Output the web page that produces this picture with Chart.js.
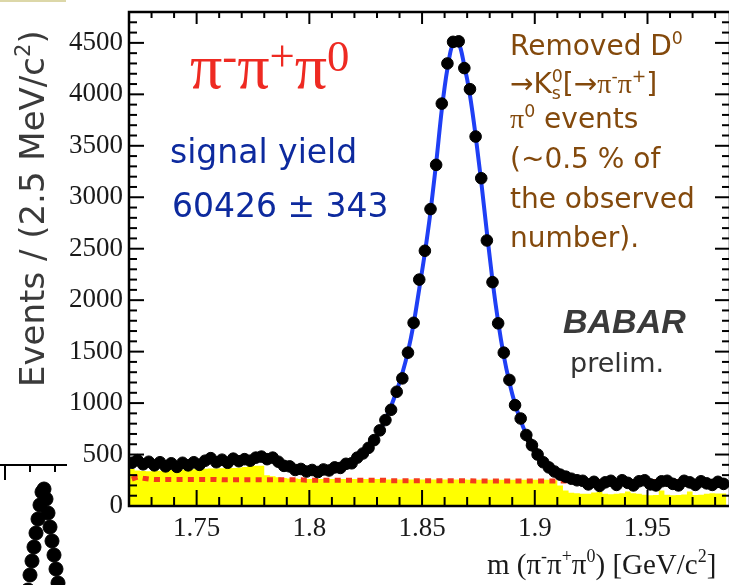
<!DOCTYPE html>
<html>
<head>
<meta charset="utf-8">
<script src="https://cdn.jsdelivr.net/npm/chart.js@4.4.0/dist/chart.umd.min.js"></script>
<style>
html,body{margin:0;padding:0;background:#fff;overflow:hidden;width:729px;height:585px}
#main{position:absolute;left:0;top:0}
#frag{position:absolute;left:0;top:455px}
#bar{position:absolute;left:0;top:0;width:66px;height:2px;background:#dcd7a8}
</style>
</head>
<body>
<div id="bar"></div>
<canvas id="main" width="731" height="585"></canvas>
<canvas id="frag" width="72" height="130"></canvas>
<script>
// m(pi- pi+ pi0) histogram, 2.5 MeV bins starting at 1.72 GeV
const binLow = 1.72
const binWidth = 0.0025
const xMin = 1.72, xMax = 1.9866
const yMin = 0, yMax = 4800

const counts = [
  420,445,405,430,395,425,385,415,380,420,
  395,425,400,440,465,425,450,420,460,435,
  455,440,470,480,455,470,430,390,385,350,
  360,335,350,330,355,345,375,370,410,415,
  470,510,565,640,735,835,935,1110,1240,1490,
  1780,2200,2480,2885,3315,3910,4300,4510,4515,4255,
  4050,3590,3185,2580,2175,1775,1490,1225,980,850,
  690,590,500,425,375,335,305,285,265,250,
  245,210,235,195,230,245,205,250,225,200,
  240,250,210,200,240,245,215,200,245,230,
  205,240,220,205,235,215
]

const fitCurve = [
  415,420,420,418,414,408,402,400,400,402,
  405,410,417,425,432,435,436,437,438,440,
  440,442,445,448,448,440,420,398,377,362,
  352,346,343,344,348,356,367,382,402,428,
  462,507,565,638,728,840,970,1120,1290,1500,
  1770,2110,2460,2860,3330,3850,4250,4480,4480,4280,
  3990,3600,3150,2660,2190,1790,1460,1200,990,830,
  695,590,505,435,380,340,308,283,263,248,
  237,229,223,220,220,222,223,224,224,224,
  224,224,224,224,224,224,224,224,224,224,
  224,224,224,224,224,224
]

// red dotted component
const combBkg = [
  262,280,270,262,258,258,258,258,258,258,
  258,258,258,258,258,258,255,255,255,255,
  255,255,255,255,255,255,255,255,255,255,
  255,250,250,250,250,250,250,250,250,250,
  250,250,250,250,250,250,246,246,246,246,
  246,246,246,246,246,246,246,246,246,246,
  246,242,242,242,242,242,242,242,242,242,
  242,242,242,242,242,242,242,242,242,242,
  242,238,238,238,238,238,238,238,238,238,
  238,238,238,238,238,238,238,238,238,238,
  238,238,238,238,238,238
]

// yellow filled component
const peakingBkg = [
  290,360,345,340,338,340,342,348,350,352,
  355,355,358,360,362,365,365,368,370,370,
  372,378,388,392,392,300,290,280,272,268,
  267,262,262,262,262,262,262,262,262,262,
  262,262,262,262,262,262,258,258,258,258,
  258,258,258,258,258,258,258,258,258,258,
  258,254,254,254,254,254,254,254,254,254,
  254,254,254,254,254,254,250,200,150,128,
  125,120,118,130,135,120,115,120,125,140,
  125,118,110,105,108,150,110,105,108,112,
  140,108,110,120,125,122
]

const xTickLabels = ['1.75','1.8','1.85','1.9','1.95']
const yTickLabels = ['0','500','1000','1500','2000','2500','3000','3500','4000','4500']

// piece of the neighbouring plot at the lower left
const fragX = [28,30,32,34,36,38,40,42,44,46,48,50,52,54,56,58]
const fragY = [-5,10,24,38,52,66,80,93,96,86,72,58,44,30,16,2]
const fragTicks = [5,30,55]

const centers = counts.map((c,i)=>binLow+(i+0.5)*binWidth)
const edges = peakingBkg.map((c,i)=>binLow+i*binWidth)

// parts: [text, 'sup'|'sub'|'', family, noAdvance]
function drawRich(ctx,x,y,parts,size,family,color,style,supScale,supRaise){
    ctx.fillStyle=color
    ctx.textBaseline='alphabetic'
    ctx.textAlign='left'
    const sc=supScale||0.62, rs=supRaise||0.4
    let cx=x
    for(const p of parts){
        const txt=p[0], kind=p[1]||'', fam=p[2]||family, noAdv=p[3]
        const s= kind ? size*sc : size
        const dy= kind==='sup' ? -size*rs : kind==='sub' ? size*0.2 : 0
        ctx.font=`${style||''} ${s}px ${fam}`
        ctx.fillText(txt,cx,y+dy)
        if(!noAdv) cx+=ctx.measureText(txt).width
    }
}

const frameTicks={
    id:'frameTicks',
    afterDatasetsDraw(chart){
        const {ctx,chartArea:a,scales:{x,y}}=chart
        ctx.save()
        ctx.strokeStyle='#000'
        ctx.lineWidth=2
        const seg=(x1,y1,x2,y2)=>{ctx.beginPath();ctx.moveTo(x1,y1);ctx.lineTo(x2,y2);ctx.stroke()}
        for(let k=172;k<=198;k++){
            const px=x.getPixelForValue(k/100)
            const major=k%5===0
            seg(px,a.bottom,px,a.bottom-(major?16:9))
            seg(px,a.top,px,a.top+(major?12:6))
        }
        for(let k=0;k<=48;k++){
            const py=y.getPixelForValue(k*100)
            const major=k%5===0
            seg(a.left,py,a.left+(major?15:8),py)
            seg(a.right,py,a.right-(major?15:8),py)
        }
        ctx.lineWidth=2.5
        ctx.strokeRect(a.left,a.top,a.right-a.left,a.bottom-a.top)
        ctx.restore()
    }
}

const texts={
    id:'texts',
    afterDraw(chart){
        const ctx=chart.ctx
        const sans='"DejaVu Sans"', serif='"Liberation Serif"'
        ctx.save()
        // y title
        ctx.save()
        ctx.translate(44,387)
        ctx.rotate(-Math.PI/2)
        drawRich(ctx,0,0,[['Events / (2.5 MeV/c'],['2','sup'],[')']],34,sans,'#3a3a3a')
        ctx.restore()
        // x title
        drawRich(ctx,487,574,[['m (π'],['-','sup'],['π'],['+','sup'],['π'],['0','sup'],[') [GeV/c'],['2','sup'],[']']],29,serif,'#1a1a1a')
        // channel
        drawRich(ctx,190,88,[['π'],['-','sup'],['π'],['+','sup'],['π'],['0','sup']],64,serif,'#ee2a22','',0.7,0.27)
        // yield
        drawRich(ctx,170,163,[['signal yield']],33,sans,'#0d2a9e')
        drawRich(ctx,172,217,[['60426 ± 343']],33,sans,'#0d2a9e')
        // note
        const brown='#83490c'
        drawRich(ctx,510,55,[['Removed D'],['0','sup']],28,sans,brown)
        drawRich(ctx,510,93,[['→K'],['s','sub','',true],['0','sup'],['[→'],['π','',serif],['-','sup'],['π','',serif],['+','sup'],[']']],28,sans,brown)
        drawRich(ctx,510,128,[['π','',serif],['0','sup'],[' events']],28,sans,brown)
        drawRich(ctx,510,168,[['(~0.5 % of']],28,sans,brown)
        drawRich(ctx,510,208,[['the observed']],28,sans,brown)
        drawRich(ctx,510,247,[['number).']],28,sans,brown)
        // experiment
        drawRich(ctx,563,333,[['BABAR']],34,'"Liberation Sans"','#3a3a3a','italic bold')
        drawRich(ctx,570,372,[['prelim.']],27,sans,'#333')
        ctx.restore()
    }
}

const serifTick={family:'"Liberation Serif"',size:27}

// in the dense low region the points and their error bars merge into one band
const bandColor=c=>(c.p0.parsed.y<700&&c.p1.parsed.y<700)?'#000':'rgba(0,0,0,0)'

new Chart(document.getElementById('main'),{
    type:'line',
    data:{
        datasets:[
            {
                label:'data',
                data:counts.map((v,i)=>({x:centers[i],y:v})),
                showLine:true,
                borderWidth:7,
                segment:{borderColor:bandColor},
                pointRadius:5.8,
                pointBackgroundColor:'#000',
                pointBorderColor:'#000',
                pointBorderWidth:1,
                order:0
            },
            {
                label:'fit',
                data:fitCurve.map((v,i)=>({x:centers[i],y:v})),
                borderColor:'#1f3ff5',
                borderWidth:4,
                pointRadius:0,
                cubicInterpolationMode:'monotone',
                order:1
            },
            {
                label:'combinatorial',
                data:combBkg.map((v,i)=>({x:centers[i],y:v})),
                borderColor:'#f43a1c',
                borderWidth:5,
                borderDash:[6,5.3],
                borderCapStyle:'butt',
                pointRadius:0,
                order:2
            },
            {
                label:'peaking',
                data:peakingBkg.map((v,i)=>({x:edges[i],y:v})).concat([{x:binLow+peakingBkg.length*binWidth,y:peakingBkg[peakingBkg.length-1]}]),
                stepped:'after',
                fill:'origin',
                backgroundColor:'#ffff00',
                borderWidth:0,
                pointRadius:0,
                order:3
            }
        ]
    },
    options:{
        responsive:false,
        devicePixelRatio:1,
        animation:false,
        events:[],
        layout:{padding:{top:12,right:1,left:0,bottom:0},autoPadding:false},
        plugins:{legend:{display:false},tooltip:{enabled:false}},
        scales:{
            x:{
                type:'linear',min:xMin,max:xMax,
                grid:{display:false,drawTicks:false},
                border:{display:false},
                afterBuildTicks:s=>{s.ticks=xTickLabels.map(t=>({value:parseFloat(t)}))},
                afterFit:s=>{s.height=79;s.paddingLeft=0;s.paddingRight=0},
                ticks:{
                    font:serifTick,color:'#1a1a1a',padding:7,maxRotation:0,autoSkip:false,
                    callback:(v,i)=>xTickLabels[i]
                }
            },
            y:{
                type:'linear',min:yMin,max:yMax,
                grid:{display:false,drawTicks:false},
                border:{display:false},
                afterBuildTicks:s=>{s.ticks=yTickLabels.map(t=>({value:parseFloat(t)}))},
                afterFit:s=>{s.width=129;s.paddingTop=0;s.paddingBottom=0},
                ticks:{
                    font:serifTick,color:'#1a1a1a',padding:6,autoSkip:false,
                    callback:(v,i)=>yTickLabels[i]
                }
            }
        }
    },
    plugins:[frameTicks,texts]
})

const fragAxis={
    id:'fragAxis',
    afterDatasetsDraw(chart){
        const {ctx,scales:{x,y}}=chart
        ctx.save()
        ctx.strokeStyle='#000'
        ctx.lineWidth=2
        const top=y.getPixelForValue(120)
        ctx.beginPath()
        ctx.moveTo(x.getPixelForValue(0),top)
        ctx.lineTo(x.getPixelForValue(67),top)
        ctx.stroke()
        fragTicks.forEach((t,i)=>{
            const px=x.getPixelForValue(t)
            ctx.beginPath()
            ctx.moveTo(px,top)
            ctx.lineTo(px,top+(i===0?15:7))
            ctx.stroke()
        })
        ctx.restore()
    }
}

new Chart(document.getElementById('frag'),{
    type:'line',
    data:{
        datasets:[{
            data:fragX.map((v,i)=>({x:v,y:fragY[i]})),
            showLine:false,
            pointRadius:7,
            pointBackgroundColor:'#000',
            pointBorderColor:'#000'
        }]
    },
    options:{
        responsive:false,
        devicePixelRatio:1,
        animation:false,
        events:[],
        layout:{padding:0,autoPadding:false},
        plugins:{legend:{display:false},tooltip:{enabled:false}},
        scales:{
            x:{type:'linear',min:0,max:72,display:false},
            y:{type:'linear',min:0,max:130,display:false}
        }
    },
    plugins:[fragAxis]
})
</script>
</body>
</html>
